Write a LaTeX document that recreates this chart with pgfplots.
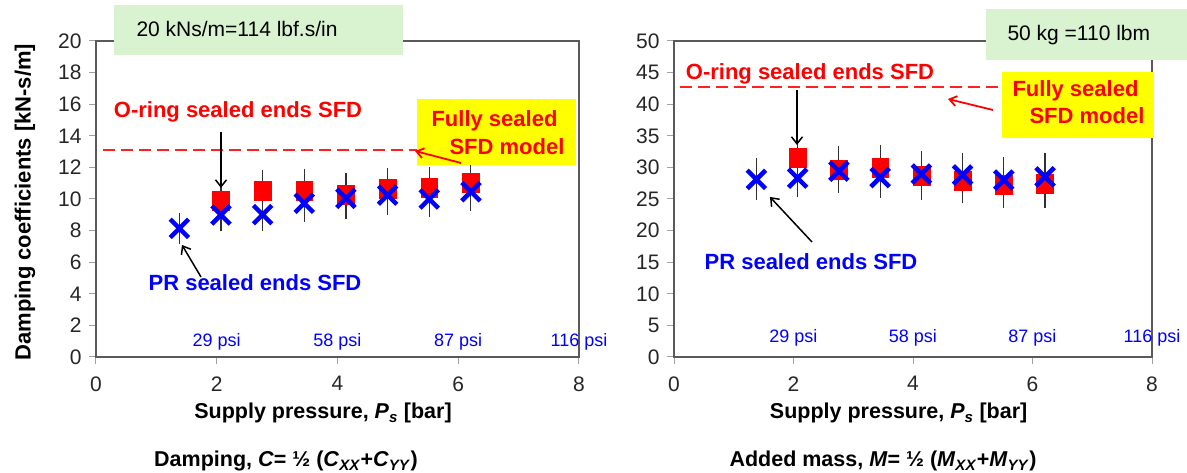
\documentclass[border=0pt]{standalone}
\usepackage{fontspec}
\setmainfont{Liberation Sans}
\usepackage{pgfplots}
\pgfplotsset{compat=1.18}
\usetikzlibrary{arrows.meta}
\definecolor{axgray}{HTML}{5A5A5A}
\definecolor{tickgray}{HTML}{A0A0A0}
\definecolor{txtgray}{HTML}{262626}
\definecolor{mygreen}{HTML}{D9F2D0}
\definecolor{myyellow}{HTML}{FFFF00}
\definecolor{errgray}{HTML}{303030}
\definecolor{dashred}{HTML}{FF2020}
\definecolor{psiblue}{HTML}{0000FF}

\pgfplotsset{
  myaxis/.style={
    scale only axis,
    anchor=south west,
    height=316pt,
    xmin=0, xmax=8,
    xtick={0,2,4,6,8},
    axis line style={axgray, line width=1.6pt},
    tick style={tickgray, line width=1pt},
    tick align=outside,
    major tick length=7pt,
    xtick pos=bottom, ytick pos=left,
    /pgf/number format/assume math mode=true,
    ticklabel style={font=\fontsize{21}{25}\selectfont, text=txtgray},
    xticklabel style={yshift=-9pt},
    yticklabel style={xshift=-4pt},
    xlabel style={font=\fontsize{21.5}{26}\selectfont\bfseries, at={(axis description cs:0.47,0)}, anchor=base, yshift=-62pt},
    clip=false,
  },
  redsq/.style={only marks, mark=square*, mark size=9.5pt, color=red,
    mark options={xscale=0.88, draw=red, fill=red},
    error bars/.cd, y dir=both, y explicit,
    error bar style={errgray, line width=1.1pt},
    error mark options={mark size=4pt, errgray, line width=1.1pt}},
  bluex/.style={only marks, mark=x, mark size=13pt, color=blue,
    mark options={line width=4.5pt, draw=blue},
    error bars/.cd, y dir=both, y explicit,
    error bar style={errgray, line width=1.1pt},
    error mark options={mark size=4pt, errgray, line width=1.1pt}},
  modelline/.style={draw=dashred, color=dashred, line width=1.7pt, dash pattern=on 12pt off 6pt, no marks},
}
\tikzset{psi/.style={font=\fontsize{18}{22}\selectfont, text=psiblue, anchor=center}}
\newcommand{\annfont}{\fontsize{22}{26}\selectfont\bfseries}

\begin{document}
\begin{tikzpicture}
\useasboundingbox (0,0) rectangle (1187pt,473pt);

% ---------------- Left: damping ----------------
\begin{axis}[myaxis,
  at={(96pt,116pt)}, width=483pt,
  ymin=0, ymax=20, ytick={0,2,...,20},
  xlabel={Supply pressure, \textit{P}\textsubscript{\textit{s}} [bar]},
  ylabel={Damping coefficients [kN-s/m]},
  ylabel style={font=\fontsize{22}{26}\selectfont\bfseries, at={(axis description cs:-0.147,0.49)}, anchor=center, rotate=0},
]
\addplot[modelline] coordinates {(0.12,13.1) (5.38,13.1)};
\addplot[redsq] coordinates {
 (2.07,9.90) +- (0,1.00)
 (2.76,10.50) +- (0,1.06)
 (3.45,10.55) +- (0,1.10)
 (4.14,10.30) +- (0,1.09)
 (4.83,10.62) +- (0,1.06)
 (5.52,10.70) +- (0,1.05)
 (6.21,11.00) +- (0,1.10)
};
\addplot[bluex] coordinates {
 (1.38,8.14) +- (0,0.73)
 (2.07,8.99) +- (0,0.74)
 (2.76,9.01) +- (0,0.76)
 (3.45,9.73) +- (0,0.91)
 (4.14,10.04) +- (0,1.03)
 (4.83,10.25) +- (0,1.01)
 (5.52,10.00) +- (0,0.91)
 (6.21,10.46) +- (0,0.95)
};
\node[psi] at (axis cs:2,0.95) {29 psi};
\node[psi] at (axis cs:4,0.95) {58 psi};
\node[psi] at (axis cs:6,0.95) {87 psi};
\node[psi] at (axis cs:8,0.95) {116 psi};
\end{axis}

% ---------------- Right: added mass ----------------
\begin{axis}[myaxis,
  at={(674pt,116pt)}, width=478pt,
  ymin=0, ymax=50, ytick={0,5,...,50},
  xlabel={Supply pressure, \textit{P}\textsubscript{\textit{s}} [bar]},
]
\addplot[modelline] coordinates {(0.10,42.7) (5.49,42.7)};
\addplot[redsq] coordinates {
 (2.07,31.6) +- (0,2.5)
 (2.76,29.7) +- (0,3.0)
 (3.45,29.9) +- (0,3.0)
 (4.14,28.7) +- (0,3.2)
 (4.83,27.95) +- (0,3.0)
 (5.52,27.3) +- (0,3.1)
 (6.21,27.4) +- (0,3.2)
};
\addplot[bluex] coordinates {
 (1.38,28.1) +- (0,2.7)
 (2.07,28.3) +- (0,2.4)
 (2.76,29.4) +- (0,2.8)
 (3.45,28.4) +- (0,2.6)
 (4.14,28.95) +- (0,2.6)
 (4.83,28.8) +- (0,2.9)
 (5.52,28.0) +- (0,3.0)
 (6.21,28.5) +- (0,3.2)
};
\node[psi] at (axis cs:2,3.0) {29 psi};
\node[psi] at (axis cs:4,3.0) {58 psi};
\node[psi] at (axis cs:6,3.0) {87 psi};
\node[psi] at (axis cs:8,3.0) {116 psi};
\end{axis}

% ---------------- Annotations (image pixel coordinates, y down) ----------------
\begin{scope}[x=1pt, y=-1pt, shift={(0pt,473pt)}]
  % left
  \fill[mygreen] (114,5) rectangle (403,55);
  \node[anchor=base west, font=\fontsize{21}{25}\selectfont] at (133,37) {20 kNs/m=114 lbf.s/in};
  \node[anchor=base, text=red, font=\annfont] at (238,118) {O-ring sealed ends SFD};
  \draw[black, line width=1.5pt, -{Straight Barb[length=7pt,width=11pt]}] (221,132) -- (221,188);
  \fill[myyellow] (417,99) rectangle (576,165);
  \node[anchor=base, text=red, font=\annfont] at (494.5,127) {Fully sealed};
  \node[anchor=base, text=red, font=\annfont] at (507,155) {SFD model};
  \draw[red, line width=1.8pt, -{Straight Barb[length=7pt,width=10pt]}] (461,163) -- (415,151);
  \node[anchor=base, text=blue, font=\annfont] at (255,291) {PR sealed ends SFD};
  \draw[black, line width=1.5pt, -{Straight Barb[length=7pt,width=11pt]}] (201,277) -- (182,245);
  % right
  \fill[mygreen] (986,9) rectangle (1187,60);
  \node[anchor=base west, font=\fontsize{21}{25}\selectfont] at (1004,41) {50 kg =110 lbm};
  \node[anchor=base, text=red, font=\annfont] at (810,80) {O-ring sealed ends SFD};
  \draw[black, line width=1.5pt, -{Straight Barb[length=7pt,width=11pt]}] (797,90) -- (797,145);
  \fill[myyellow] (1002,72) rectangle (1154,138);
  \node[anchor=base, text=red, font=\annfont] at (1075.5,97) {Fully sealed};
  \node[anchor=base, text=red, font=\annfont] at (1087,124) {SFD model};
  \draw[red, line width=1.8pt, -{Straight Barb[length=7pt,width=10pt]}] (993,110) -- (948,99);
  \node[anchor=base, text=blue, font=\annfont] at (811,270) {PR sealed ends SFD};
  \draw[black, line width=1.5pt, -{Straight Barb[length=7pt,width=11pt]}] (812,242) -- (770,197);
  % captions
  \node[anchor=base, font=\fontsize{21.5}{26}\selectfont\bfseries] at (286,467)
    {Damping, \textit{C}= ½ (\textit{C}\textsubscript{\textit{XX}}+\textit{C}\textsubscript{\textit{YY}})};
  \node[anchor=base, font=\fontsize{21.5}{26}\selectfont\bfseries] at (883,467)
    {Added mass, \textit{M}= ½ (\textit{M}\textsubscript{\textit{XX}}+\textit{M}\textsubscript{\textit{YY}})};
\end{scope}
\end{tikzpicture}
\end{document}
